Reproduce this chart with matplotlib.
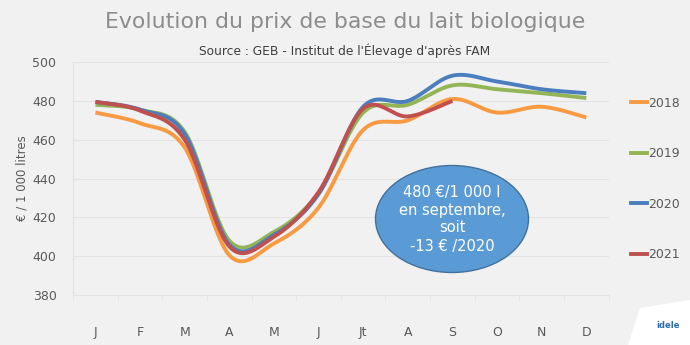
import numpy as np
import matplotlib
matplotlib.use("Agg")
from matplotlib import pyplot as plt
from matplotlib.patches import Ellipse, Polygon
from matplotlib.lines import Line2D

# Organic milk base price, EUR per 1 000 litres, by month
MONTHS = ["J", "F", "M", "A", "M", "J", "Jt", "A", "S", "O", "N", "D"]
PRICE_2018 = [474, 468.5, 456, 400.5, 406.5, 425, 465, 470, 481, 474, 477, 471.5]
PRICE_2019 = [478, 475.5, 464, 408, 412.5, 432.5, 474, 478, 488, 486, 484, 481.5]
PRICE_2020 = [479.5, 475.5, 463, 406, 411, 432, 477, 480, 493, 490, 486, 484]
PRICE_2021 = [479.5, 475, 460, 405, 410, 433, 476, 472, 480]

SERIES = [
    ("2018", PRICE_2018, "#f79a42"),
    ("2019", PRICE_2019, "#93b556"),
    ("2020", PRICE_2020, "#4a7ebf"),
    ("2021", PRICE_2021, "#c0504d"),
]

BG = "#f1f1f1"
GRID = "#e3e3e3"
TXT = "#595959"


def smooth(xs, ys, n=30):
    # cubic bezier through each point, tangents like a Catmull-Rom curve
    xs = np.asarray(xs, float)
    ys = np.asarray(ys, float)
    px = np.concatenate([[xs[0]], xs, [xs[-1]]])
    py = np.concatenate([[ys[0]], ys, [ys[-1]]])
    outx, outy = [], []
    t = np.linspace(0, 1, n)
    for i in range(1, len(px) - 2):
        p0 = np.array([px[i], py[i]])
        p3 = np.array([px[i + 1], py[i + 1]])
        p1 = p0 + (np.array([px[i + 1], py[i + 1]]) - np.array([px[i - 1], py[i - 1]])) / 6
        p2 = p3 - (np.array([px[i + 2], py[i + 2]]) - np.array([px[i], py[i]])) / 6
        b = ((1 - t) ** 3)[:, None] * p0 + (3 * (1 - t) ** 2 * t)[:, None] * p1 \
            + (3 * (1 - t) * t ** 2)[:, None] * p2 + (t ** 3)[:, None] * p3
        outx.extend(b[:, 0])
        outy.extend(b[:, 1])
    return outx, outy


fig = plt.figure(figsize=(6.9, 3.45), dpi=100, facecolor=BG)
ax = fig.add_axes([0.106, 0.145, 0.776, 0.675], facecolor=BG)

x = np.arange(len(MONTHS))
handles = []
for name, vals, col in SERIES:
    sx, sy = smooth(x[:len(vals)], vals)
    ax.plot(sx, sy, color=col, lw=2.8, solid_capstyle="butt", zorder=3)
    handles.append(Line2D([], [], color=col, lw=2.8, label=name))

ax.set_xlim(-0.5, len(MONTHS) - 0.5)
ax.set_ylim(380, 500)
ax.set_yticks(range(380, 501, 20))
ax.set_xticks(x)
ax.set_xticklabels(MONTHS)
ax.set_xticks(np.arange(-0.5, len(MONTHS), 1), minor=True)
ax.grid(axis="y", color=GRID, lw=0.8)
ax.tick_params(axis="both", which="major", length=0, colors=TXT, labelsize=9)
ax.tick_params(axis="x", which="major", pad=22)
ax.tick_params(axis="y", which="major", pad=12)
ax.tick_params(axis="x", which="minor", length=4, color=GRID, direction="out")
for side in ["top", "right"]:
    ax.spines[side].set_visible(False)
for side in ["left", "bottom"]:
    ax.spines[side].set_color(GRID)
ax.set_ylabel("€ / 1 000 litres", color=TXT, fontsize=8.5, labelpad=3)

ax.legend(handles=handles, loc="upper left", bbox_to_anchor=(1.02, 0.9),
          frameon=False, handlelength=1.3, handletextpad=0.1,
          labelspacing=3.0, fontsize=9, labelcolor=TXT)

fig.text(0.5, 0.935, "Evolution du prix de base du lait biologique",
         ha="center", va="center", fontsize=15.8, color="#8c8c8c")
fig.text(0.5, 0.852, "Source : GEB - Institut de l'Élevage d'après FAM",
         ha="center", va="center", fontsize=8.8, color="#404040")

# callout on September 2021
sep21 = PRICE_2021[8]
diff = sep21 - PRICE_2020[8]
ell = Ellipse((452 / 690, 1 - 219 / 345), 153 / 690, 107 / 345,
              transform=fig.transFigure, facecolor="#5b9bd5",
              edgecolor="#41719c", lw=1, zorder=5)
fig.add_artist(ell)
fig.text(452 / 690, 1 - 219 / 345,
         f"{sep21} €/1 000 l\nen septembre,\nsoit\n{diff} € /2020",
         ha="center", va="center", color="white", fontsize=10.5,
         linespacing=1.25, zorder=6)

# small logo badge in the corner
badge = Polygon([(628 / 690, 0.0), (690 / 690, 0.0), (690 / 690, 1 - 300 / 345),
                 (640 / 690, 1 - 308 / 345)], closed=True,
                transform=fig.transFigure, facecolor="white", edgecolor="none")
fig.add_artist(badge)
fig.text(668 / 690, 1 - 326 / 345, "idele", ha="center", va="center",
         fontsize=6, color="#2a6db5", fontweight="bold")

fig.savefig("out.png", dpi=100, facecolor=BG)
